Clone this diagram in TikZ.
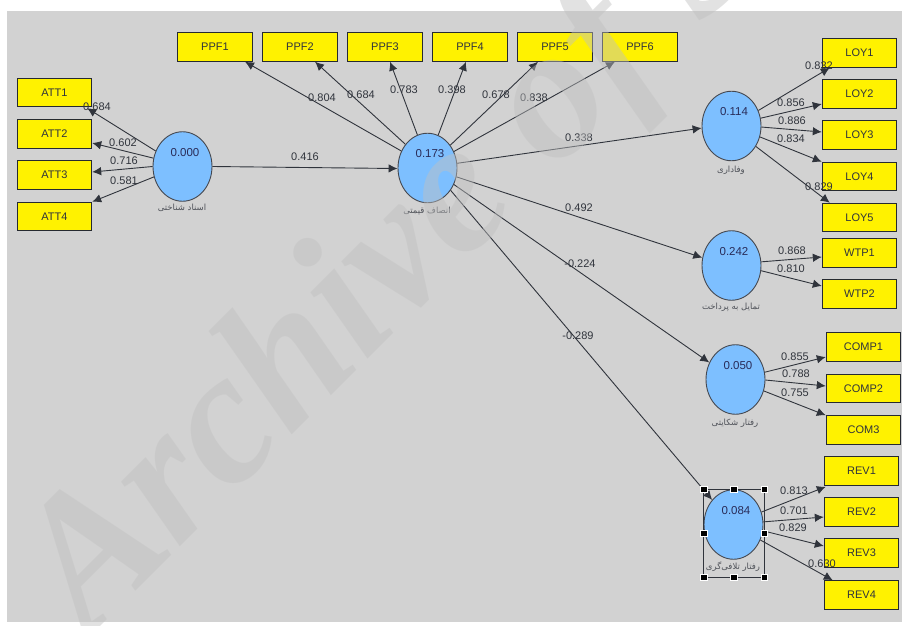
\documentclass[tikz,border=0pt]{standalone}
\usepackage{fontspec}
\setmainfont{Liberation Sans}
\newfontfamily\arabicfont[Script=Arabic]{DejaVu Sans}
\newfontfamily\markfont{Liberation Serif}
\TeXXeTstate=1
\usetikzlibrary{arrows.meta,shapes.geometric}
\definecolor{panel}{HTML}{D2D2D2}
\definecolor{lat}{HTML}{7DBFFF}
\definecolor{ink}{HTML}{30343C}
\definecolor{markgray}{HTML}{C0C0C0}
\tikzset{
  x=1pt,y=-1pt,
  indic/.style={draw=ink!80!black,line width=0.9pt,fill=yellow,minimum width=74.5pt,minimum height=28.5pt,inner sep=0pt,font=\fontsize{11}{12}\selectfont,text=ink},
  latent/.style={draw=ink!90,line width=0.9pt,fill=lat,ellipse,minimum width=59pt,minimum height=69.5pt,inner sep=0pt},
  arr/.style={draw=ink,line width=0.9pt,-{Latex[length=9pt,width=8.5pt]}},
  val/.style={font=\fontsize{11}{12}\selectfont,text=ink,inner sep=0pt},
  rsq/.style={font=\fontsize{11.5}{13}\selectfont,text=ink!85!blue,inner sep=0pt},
  fa/.style={font=\arabicfont\fontsize{8.5}{9}\selectfont,text=ink!85,inner sep=0pt},
  grip/.style={draw=white,line width=0.5pt,fill=black,minimum size=6.5pt,inner sep=0pt},
}
\begin{document}
\begin{tikzpicture}
\useasboundingbox (0,0) rectangle (902,626);
\fill[white] (0,0) rectangle (902,626);
\fill[panel] (7,11) rectangle (902,622);
% latent variables
\node[latent] (c1) at (182.5,166.5) {};
\node[latent] (c2) at (427.5,168) {};
\node[latent] (c3) at (731.5,126) {};
\node[latent] (c4) at (731.5,265.5) {};
\node[latent] (c5) at (735.5,379.5) {};
\node[latent] (c6) at (733.5,524.5) {};
% indicators
\foreach \n/\t/\x/\y in {
 a1/ATT1/54.5/92.5,a2/ATT2/54.5/134,a3/ATT3/54.5/175,a4/ATT4/54.5/216.5,
 p1/PPF1/215/47,p2/PPF2/300/47,p3/PPF3/385/47,p4/PPF4/470/47,p5/PPF5/555/47,p6/PPF6/640/47,
 l1/LOY1/859.5/53,l2/LOY2/859.5/94,l3/LOY3/859.5/135,l4/LOY4/859.5/176.5,l5/LOY5/859.5/217.5,
 w1/WTP1/859.5/253,w2/WTP2/859.5/294,
 m1/COMP1/863.5/347,m2/COMP2/863.5/388.5,m3/COM3/863.5/430,
 r1/REV1/861.5/471,r2/REV2/861.5/512,r3/REV3/861.5/553,r4/REV4/861.5/595}
  \node[indic] (\n) at (\x,\y) {\t};
% connectors
\draw[arr] (c1.east) -- (c2.181);
\draw[arr] (c1.150) -- ([xshift=-5pt,yshift=-1pt]a1.south east);
\draw[arr] (c1.164) -- ([yshift=-9pt]a2.east);
\draw[arr] (c1.180) -- ([yshift=3pt]a3.east);
\draw[arr] (c1.200) -- (a4.north east);
\draw[arr] (c2.147) -- ([xshift=30pt]p1.south);
\draw[arr] (c2.133) -- ([xshift=15pt]p2.south);
\draw[arr] (c2.107) -- ([xshift=5pt]p3.south);
\draw[arr] (c2.72) -- ([xshift=-4pt]p4.south);
\draw[arr] (c2.45) -- ([xshift=-17pt]p5.south);
\draw[arr] (c2.32) -- ([xshift=-25pt]p6.south);
\draw[arr] (c2.9) -- (c3.184);
\draw[arr] (c2.-17) -- (c4.165);
\draw[arr] (c2.-32) -- (c5.147);
\draw[arr] (c2.-44) -- (c6.131);
\draw[arr] (c3.30) -- ([xshift=8pt]l1.south west);
\draw[arr] (c3.15) -- ([yshift=-10pt]l2.west);
\draw[arr] (c3.-2) -- ([yshift=3pt]l3.west);
\draw[arr] (c3.-21) -- (l4.north west);
\draw[arr] (c3.-40) -- ([xshift=8pt]l5.north west);
\draw[arr] (c4.7) -- ([yshift=-4pt]w1.west);
\draw[arr] (c4.-10) -- ([yshift=8pt]w2.west);
\draw[arr] (c5.14) -- ([yshift=-10pt]m1.west);
\draw[arr] (c5.-1) -- ([yshift=2.5pt]m2.west);
\draw[arr] (c5.-22) -- (m3.north west);
\draw[arr] (c6.24) -- ([xshift=2pt,yshift=-1pt]r1.south west);
\draw[arr] (c6.5) -- ([yshift=-5pt]r2.west);
\draw[arr] (c6.-12) -- ([yshift=7pt]r3.west);
\draw[arr] (c6.-30) -- ([xshift=9pt]r4.north west);
% values of the latent variables
\foreach \n/\v/\x/\y in {v1/0.000/185/153,v2/0.173/430/154,v3/0.114/734/112,v4/0.242/734/252,v5/0.050/738/366,v6/0.084/736/511}
  \node[rsq] (\n) at (\x,\y) {\v};
% loadings
\foreach \n/\v/\x/\y in {
 t1/0.684/97/107,t2/0.602/123/143,t3/0.716/124/161,t4/0.581/124/181,
 t5/0.416/305/157,
 t6/0.804/322/98,t7/0.684/361/95,t8/0.783/404/90,t9/0.398/452/90,t10/0.678/496/95,t11/0.838/534/98,
 t12/0.338/579/138,t13/0.492/579/208,t14/-0.224/580/264,t15/-0.289/578/336,
 t16/0.832/819/66,t17/0.856/791/103,t18/0.886/792/121,t19/0.834/791/139,t20/0.829/819/187,
 t21/0.868/792/251,t22/0.810/791/269,
 t23/0.855/795/357,t24/0.788/796/374,t25/0.755/795/393,
 t26/0.813/794/491,t27/0.701/794/511,t28/0.829/793/528,t29/0.630/822/564}
  \node[val] (\n) at (\x,\y) {\v};
% construct names
\node[fa] (f1) at (182,208) {\beginR اسناد شناختی\endR};
\node[fa] (f2) at (427,211) {\beginR انصاف قیمتی\endR};
\node[fa] (f3) at (731,170) {\beginR وفاداری\endR};
\node[fa] (f4) at (731,307) {\beginR تمایل به پرداخت\endR};
\node[fa] (f5) at (735,423) {\beginR رفتار شکایتی\endR};
\node[fa] (f6) at (733,567) {\beginR رفتار تلافی‌گری\endR};
% selection frame
\draw[ink,line width=0.9pt] (703.5,489) rectangle (764,577);
\foreach \x/\y in {703.5/489,733.5/489,764/489,703.5/533,764/533,703.5/577,733.5/577,764/577}
  \node[grip] at (\x,\y) {};
% watermark
\begin{scope}
\clip (0,0) rectangle (902,626);
\node[rotate=45,anchor=base west,inner sep=0pt,text=markgray,text opacity=0.45,font=\markfont\bfseries\itshape\fontsize{190}{200}\selectfont] (wm) at (88,639) {Archive of SID};
\end{scope}
\end{tikzpicture}
\end{document}
